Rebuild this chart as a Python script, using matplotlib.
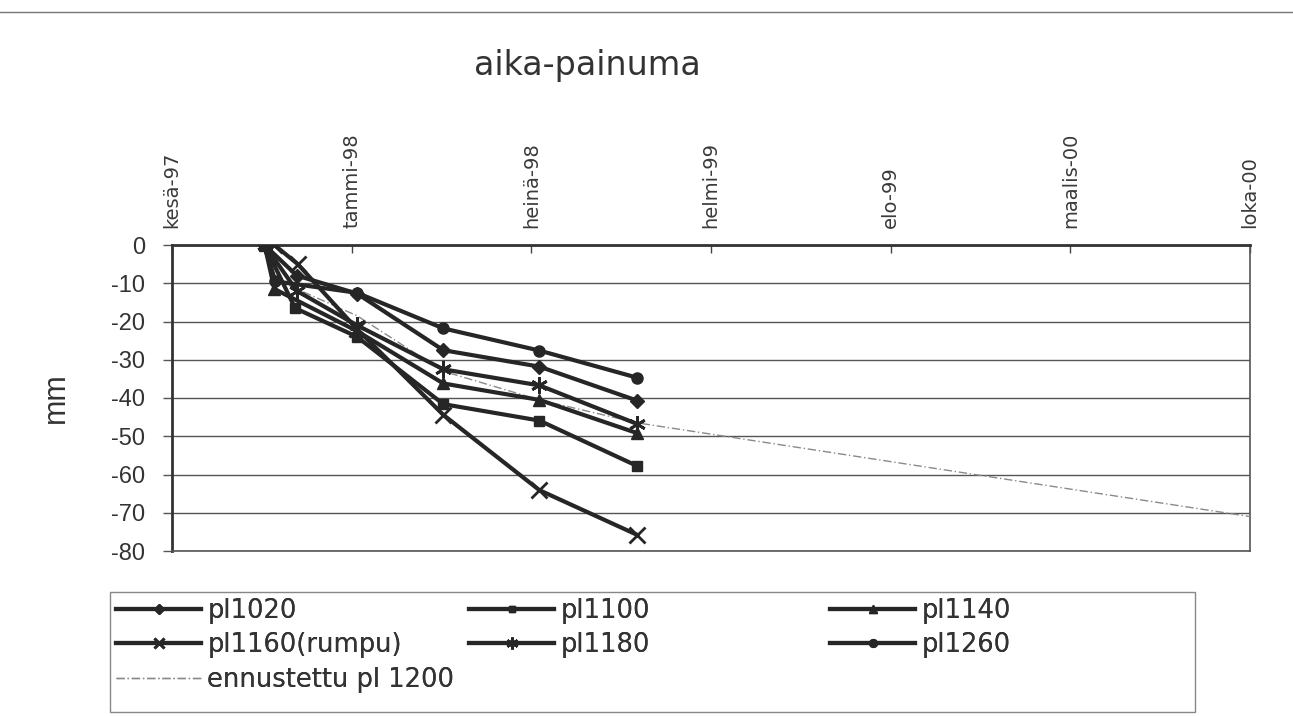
import matplotlib
matplotlib.use("Agg")
import matplotlib.pyplot as plt
from matplotlib.lines import Line2D
from matplotlib.patches import Rectangle
import datetime as dt

# ---------------- data ----------------
axis_start = "1997-06-20"
axis_end = "2000-10-02"
tick_labels = ["kesä-97", "tammi-98", "heinä-98", "helmi-99", "elo-99", "maalis-00", "loka-00"]

pl1020_dates = ["1997-10-01", "1997-11-06", "1998-01-12", "1998-04-18", "1998-08-03", "1998-11-20"]
pl1020_vals = [0, -8, -12.7, -27.5, -31.8, -40.7]

pl1100_dates = ["1997-10-01", "1997-11-04", "1998-01-12", "1998-04-18", "1998-08-03", "1998-11-20"]
pl1100_vals = [0, -16.5, -24.0, -41.6, -45.9, -57.8]

pl1140_dates = ["1997-10-01", "1997-10-12", "1998-01-12", "1998-04-18", "1998-08-03", "1998-11-20"]
pl1140_vals = [0, -11.5, -22.5, -36.2, -40.5, -49.2]

pl1160_dates = ["1997-10-12", "1997-11-07", "1998-01-12", "1998-04-18", "1998-08-03", "1998-11-20"]
pl1160_vals = [0, -5.0, -22.0, -44.4, -64.1, -75.8]

pl1180_dates = ["1997-10-01", "1997-11-06", "1998-01-12", "1998-04-18", "1998-08-03", "1998-11-20"]
pl1180_vals = [0, -12.0, -21.0, -32.5, -36.7, -46.8]

pl1260_dates = ["1997-10-01", "1997-10-13", "1998-01-12", "1998-04-18", "1998-08-03", "1998-11-20"]
pl1260_vals = [0, -9.5, -12.5, -21.8, -27.6, -34.7]

pred_dates = ["1997-10-13", "1998-01-12", "1998-04-18", "1998-08-03", "1998-11-20", "2000-10-02"]
pred_vals = [-9.0, -18.5, -33.0, -40.5, -46.5, -71.0]

y_ticks = [0, -10, -20, -30, -40, -50, -60, -70, -80]


def d(s):
    return dt.datetime.strptime(s, "%Y-%m-%d")


def dl(lst):
    return [d(s) for s in lst]


# ---------------- figure ----------------
W, H = 1293, 716
fig = plt.figure(figsize=(W / 100, H / 100), dpi=100)
fig.patch.set_facecolor("white")


def fx(px):
    return px / W


def fy(py):
    return 1 - py / H


AX_L, AX_R, AX_T, AX_B = 172, 1250, 245, 551
ax = fig.add_axes([fx(AX_L), fy(AX_B), fx(AX_R) - fx(AX_L), fy(AX_T) - fy(AX_B)])

dark = "#262626"
lw = 3.0

series = [
    ("pl1020", pl1020_dates, pl1020_vals, dict(marker="D", markersize=7)),
    ("pl1100", pl1100_dates, pl1100_vals, dict(marker="s", markersize=7)),
    ("pl1140", pl1140_dates, pl1140_vals, dict(marker="^", markersize=9)),
    ("pl1160(rumpu)", pl1160_dates, pl1160_vals, dict(marker="x", markersize=11, markeredgewidth=2)),
    ("pl1180", pl1180_dates, pl1180_vals, dict(marker=(6, 2, 0), markersize=12, markeredgewidth=2)),
    ("pl1260", pl1260_dates, pl1260_vals, dict(marker="o", markersize=8)),
]

handles = {}
for name, ds, vs, mk in series:
    (h,) = ax.plot(dl(ds), vs, color=dark, lw=lw, markerfacecolor=dark,
                   markeredgecolor=dark, zorder=4, label=name, **mk)
    handles[name] = h

(hp,) = ax.plot(dl(pred_dates), pred_vals, color="#8a8a8a", lw=1.0,
                dashes=(6, 2, 1, 2), zorder=3, label="ennustettu pl 1200")
handles["ennustettu pl 1200"] = hp

# axes limits
ax.set_xlim(d(axis_start), d(axis_end))
ax.set_ylim(-80, 0)

# gridlines
ax.set_yticks(y_ticks)
ax.yaxis.grid(True, color="#555555", lw=1.0)
ax.set_axisbelow(True)
ax.set_yticklabels([str(v) for v in y_ticks], fontsize=17,
                   family=["Liberation Sans", "DejaVu Sans"], color="#333333")
ax.tick_params(axis="y", direction="out", length=6.5, width=1, color="#555555", pad=13)

# x axis on top
start = d(axis_start)
xt = [start + dt.timedelta(days=200 * i) for i in range(len(tick_labels))]
ax.xaxis.tick_top()
ax.set_xticks(xt)
ax.set_xticklabels(tick_labels, rotation=90, fontsize=14,
                   family=["DejaVu Sans Condensed", "DejaVu Sans"],
                   color="#3a3a3a")
ax.tick_params(axis="x", direction="in", length=6, width=1, color="#444444", pad=12)

for s in ["left", "top"]:
    ax.spines[s].set_color("#333333")
    ax.spines[s].set_linewidth(2.0)
for s in ["right", "bottom"]:
    ax.spines[s].set_color("#555555")
    ax.spines[s].set_linewidth(1.2)

ax.set_ylabel("mm", fontsize=22, family=["Liberation Sans", "DejaVu Sans"], color="#333333")
ax.yaxis.set_label_coords((71 - AX_L) / (AX_R - AX_L), 0.5)

fig.text(fx(587), fy(66), "aika-painuma", fontsize=24, ha="center", va="center",
         family=["DejaVu Sans"], color="#333333")

# top border line of chart area
fig.add_artist(Line2D([0, 1], [fy(12), fy(12)], color="#777777", lw=1.0))

# legend frame
fig.add_artist(Rectangle((fx(110), fy(712)), fx(1195) - fx(110), fy(592) - fy(712),
                         fill=False, edgecolor="#888888", lw=1.0))

cols = [
    (117, ["pl1020", "pl1160(rumpu)", "ennustettu pl 1200"]),
    (470, ["pl1100", "pl1180"]),
    (831, ["pl1140", "pl1260"]),
]
for x0, names in cols:
    leg = fig.legend([handles[n] for n in names], names, loc="upper left",
                     bbox_to_anchor=(fx(x0 - 6), fy(593)), frameon=False,
                     prop=dict(family=["DejaVu Sans"], size=18.5),
                     handlelength=3.3, handletextpad=0.25, labelspacing=0.32,
                     borderaxespad=0, borderpad=0.2, markerscale=0.7, labelcolor="#333333")
    fig.add_artist(leg)

fig.savefig("out.png", dpi=100, facecolor="white")
